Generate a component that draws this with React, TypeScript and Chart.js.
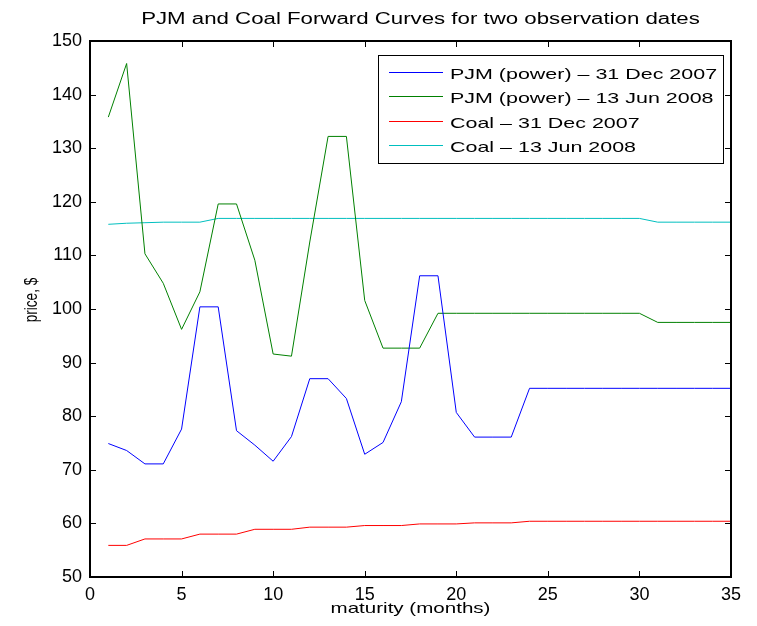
import React, { useEffect, useRef } from "react";
import { Chart, registerables } from "chart.js";

Chart.register(...registerables);

const months = [1, 2, 3, 4, 5, 6, 7, 8, 9, 10, 11, 12, 13, 14, 15, 16, 17, 18, 19, 20, 21, 22, 23, 24, 25, 26, 27, 28, 29, 30, 31, 32, 33, 34, 35];

const pjmDec2007 = [74.9, 73.6, 71.1, 71.1, 77.6, 100.4, 100.4, 77.3, 74.6, 71.6, 76.2, 87.0, 87.0, 83.3, 72.9, 75.1, 82.7, 106.2, 106.2, 80.7, 76.1, 76.1, 76.1, 85.2, 85.2, 85.2, 85.2, 85.2, 85.2, 85.2, 85.2, 85.2, 85.2, 85.2, 85.2];
const pjmJun2008 = [135.8, 145.8, 110.3, 104.8, 96.2, 103.2, 119.6, 119.6, 109.1, 91.6, 91.2, 112.5, 132.2, 132.2, 101.6, 92.7, 92.7, 92.7, 99.2, 99.2, 99.2, 99.2, 99.2, 99.2, 99.2, 99.2, 99.2, 99.2, 99.2, 99.2, 97.5, 97.5, 97.5, 97.5, 97.5];
const coalDec2007 = [55.9, 55.9, 57.1, 57.1, 57.1, 58.0, 58.0, 58.0, 58.9, 58.9, 58.9, 59.3, 59.3, 59.3, 59.6, 59.6, 59.6, 59.9, 59.9, 59.9, 60.1, 60.1, 60.1, 60.4, 60.4, 60.4, 60.4, 60.4, 60.4, 60.4, 60.4, 60.4, 60.4, 60.4, 60.4];
const coalJun2008 = [115.8, 116.0, 116.1, 116.2, 116.2, 116.2, 116.9, 116.9, 116.9, 116.9, 116.9, 116.9, 116.9, 116.9, 116.9, 116.9, 116.9, 116.9, 116.9, 116.9, 116.9, 116.9, 116.9, 116.9, 116.9, 116.9, 116.9, 116.9, 116.9, 116.9, 116.2, 116.2, 116.2, 116.2, 116.2];

const seriesLabels = [
  "PJM (power) \u2013 31 Dec 2007",
  "PJM (power) \u2013 13 Jun 2008",
  "Coal \u2013 31 Dec 2007",
  "Coal \u2013 13 Jun 2008",
];
const seriesColors = ["#0000ff", "#008000", "#ff0000", "#00bfbf"];

const xTicks = [0, 5, 10, 15, 20, 25, 30, 35];
const yTicks = [50, 60, 70, 80, 90, 100, 110, 120, 130, 140, 150];

const titleText = "PJM and Coal Forward Curves for two observation dates";
const xTitle = "maturity (months)";
const yTitle = "price, $";

const FONT = '"Liberation Sans", Arial, Helvetica, sans-serif';

function stretchedText(
  ctx: CanvasRenderingContext2D,
  text: string,
  x: number,
  y: number,
  size: number,
  sx: number,
  align: "left" | "center"
) {
  ctx.save();
  ctx.font = `${size}px ${FONT}`;
  ctx.textBaseline = "alphabetic";
  ctx.textAlign = "left";
  const w = ctx.measureText(text).width * sx;
  const x0 = align === "center" ? x - w / 2 : x;
  ctx.translate(x0, y);
  ctx.scale(sx, 1);
  ctx.fillStyle = "#000";
  ctx.fillText(text, 0, 0);
  ctx.restore();
}

const matlabPlugin = {
  id: "matlabDecor",
  afterDatasetsDraw(chart: any) {
    const { ctx, chartArea } = chart;
    const { left, right, top, bottom } = chartArea;
    const xs = chart.scales.x;
    const ys = chart.scales.y;
    ctx.save();
    ctx.strokeStyle = "#000";
    ctx.lineWidth = 1;
    const tl = 6;
    ctx.beginPath();
    xTicks.forEach((v) => {
      const px = Math.round(xs.getPixelForValue(v)) + 0.5;
      ctx.moveTo(px, bottom);
      ctx.lineTo(px, bottom - tl);
      ctx.moveTo(px, top);
      ctx.lineTo(px, top + tl);
    });
    yTicks.forEach((v) => {
      const py = Math.round(ys.getPixelForValue(v)) + 0.5;
      ctx.moveTo(left, py);
      ctx.lineTo(left + tl, py);
      ctx.moveTo(right, py);
      ctx.lineTo(right - tl, py);
    });
    ctx.stroke();
    ctx.lineWidth = 2;
    ctx.strokeRect(left, top, right - left, bottom - top);
    ctx.restore();
  },
  afterDraw(chart: any) {
    const ctx: CanvasRenderingContext2D = chart.ctx;
    const { left, right } = chart.chartArea;
    // title
    stretchedText(ctx, titleText, 420.5, 24, 16, 1.39, "center");
    // x axis title
    stretchedText(ctx, xTitle, (left + right) / 2, 613, 15, 1.37, "center");
    // y axis title
    ctx.save();
    ctx.translate(32, 300);
    ctx.rotate(-Math.PI / 2);
    ctx.scale(1, 1.3);
    ctx.font = `13.5px ${FONT}`;
    ctx.textAlign = "center";
    ctx.textBaseline = "middle";
    ctx.fillStyle = "#000";
    ctx.fillText(yTitle, 0, 0);
    ctx.restore();
    // legend
    const bx = 378.5, by = 55.5, bw = 345, bh = 108;
    ctx.save();
    ctx.fillStyle = "#fff";
    ctx.fillRect(bx, by, bw, bh);
    ctx.strokeStyle = "#000";
    ctx.lineWidth = 1;
    ctx.strokeRect(bx, by, bw, bh);
    seriesLabels.forEach((label, i) => {
      const base = 79 + i * 24.4;
      const ly = Math.round(base - 7) + 0.5;
      ctx.beginPath();
      ctx.strokeStyle = seriesColors[i];
      ctx.lineWidth = 1;
      ctx.moveTo(389, ly);
      ctx.lineTo(443, ly);
      ctx.stroke();
      stretchedText(ctx, label, 450, base, 15, 1.43, "left");
    });
    ctx.restore();
  },
};

export default function App() {
  const canvasRef = useRef<HTMLCanvasElement | null>(null);

  useEffect(() => {
    const canvas = canvasRef.current;
    if (!canvas) return;
    const seriesValues = [pjmDec2007, pjmJun2008, coalDec2007, coalJun2008];
    const chart = new Chart(canvas, {
      type: "line",
      data: {
        datasets: seriesValues.map((vals, i) => ({
          label: seriesLabels[i],
          data: months.map((m, j) => ({ x: m, y: vals[j] })),
          borderColor: seriesColors[i],
          backgroundColor: seriesColors[i],
          borderWidth: 1,
          pointRadius: 0,
          tension: 0,
          fill: false,
        })),
      },
      options: {
        animation: false,
        responsive: false,
        devicePixelRatio: 1,
        layout: { padding: { top: 41, right: 26, bottom: 0, left: 0 } },
        plugins: {
          legend: { display: false },
          title: { display: false },
          tooltip: { enabled: false },
        },
        scales: {
          x: {
            type: "linear",
            min: 0,
            max: 35,
            afterBuildTicks: (scale: any) => {
              scale.ticks = xTicks.map((v) => ({ value: v }));
            },
            afterFit: (scale: any) => {
              scale.height = 49;
            },
            grid: { display: false, drawTicks: false },
            border: { display: false },
            ticks: {
              color: "#000",
              padding: 7,
              maxRotation: 0,
              font: { family: FONT, size: 18 },
            },
          },
          y: {
            type: "linear",
            min: 50,
            max: 150,
            afterBuildTicks: (scale: any) => {
              scale.ticks = yTicks.map((v) => ({ value: v }));
            },
            afterFit: (scale: any) => {
              scale.width = 90;
            },
            grid: { display: false, drawTicks: false },
            border: { display: false },
            ticks: {
              color: "#000",
              padding: 8,
              font: { family: FONT, size: 18 },
            },
          },
        },
      },
      plugins: [matlabPlugin],
    } as any);
    return () => chart.destroy();
  }, []);

  return (
    <div style={{ position: "fixed", left: 0, top: 0, width: 757, height: 626, background: "#fff" }}>
      <canvas ref={canvasRef} width={757} height={626} style={{ display: "block" }} />
    </div>
  );
}
